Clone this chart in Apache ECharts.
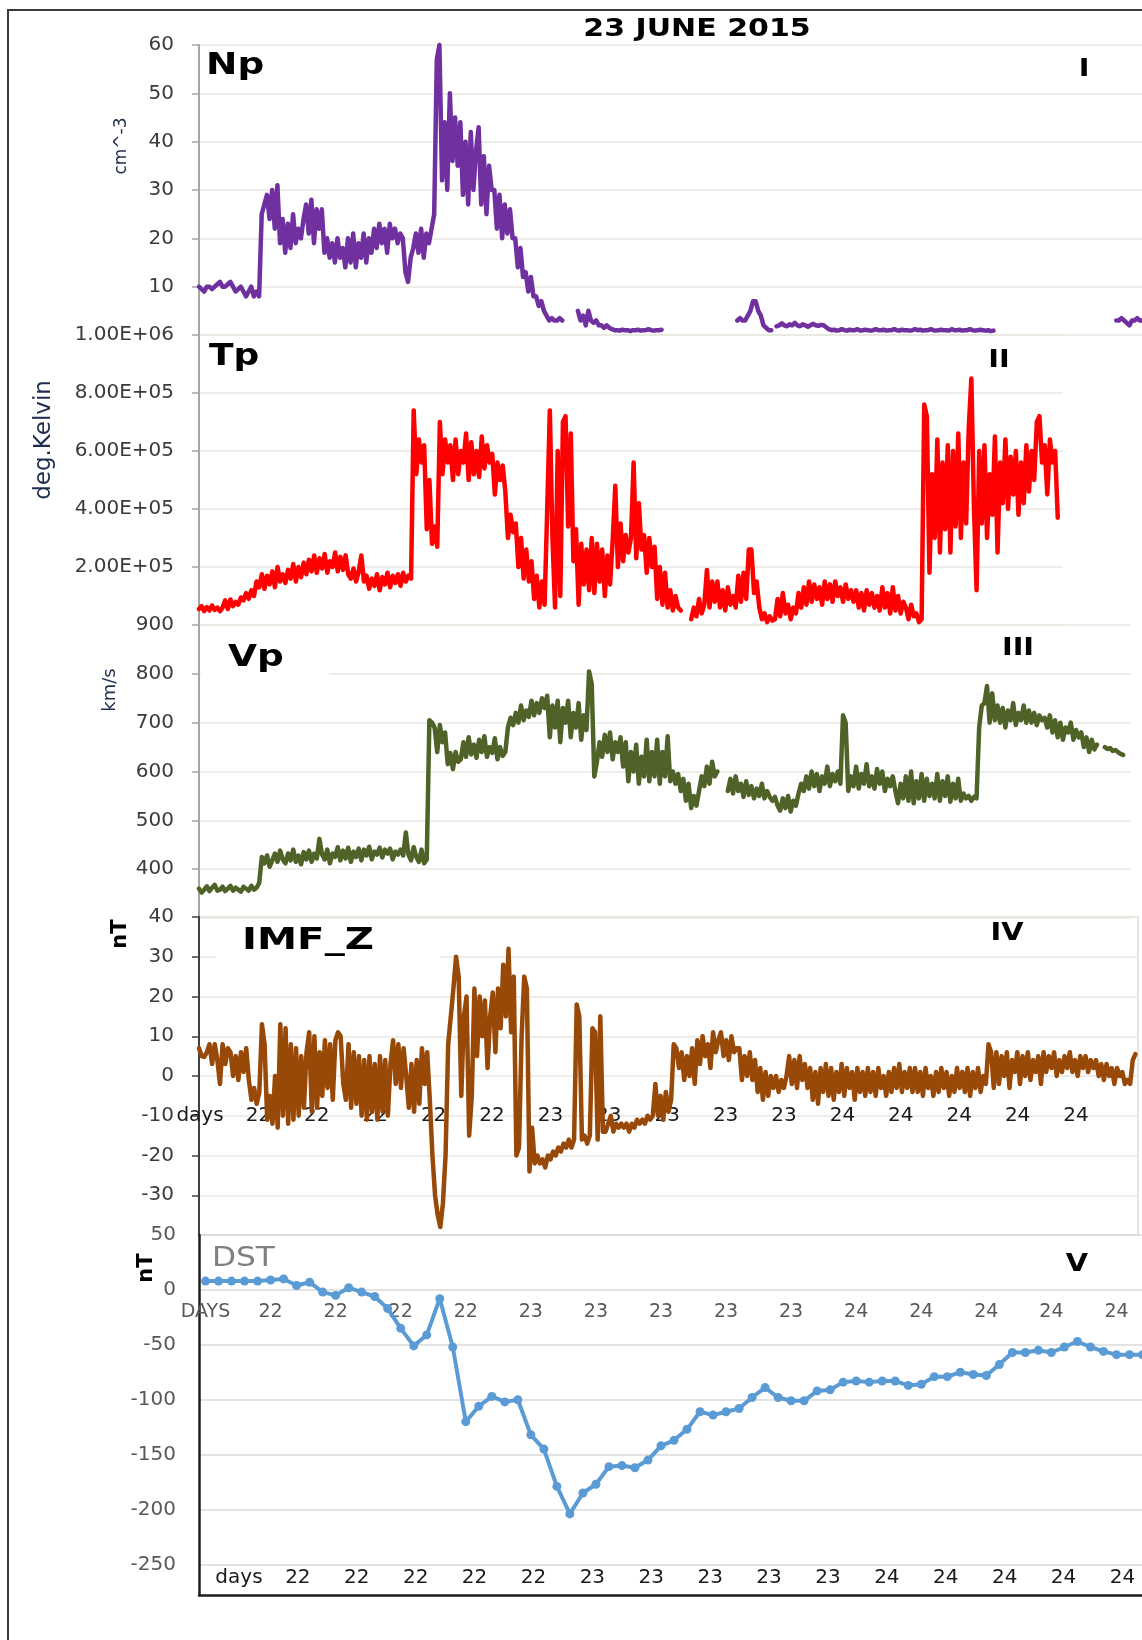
<!DOCTYPE html>
<html>
<head>
<meta charset="utf-8">
<script src="https://cdn.jsdelivr.net/npm/echarts@6/dist/echarts.min.js"></script>
<style>
html,body{margin:0;padding:0;background:#fff;}
#chart{width:1142px;height:1640px;}
</style>
</head>
<body>
<div id="chart"></div>
<script>
// ---------------- DATA ----------------
// Proton density Np (cm^-3), evenly spaced samples, 22-24 June 2015
const npValues = [
10,9.5,9,10,10,9.5,10,10.5,11,10,10,10.5,11,10,9,9.5,10,9,8,9,10,8,9,8,
25,27,29,24,30,22,31,
19,24,17,23,18,25,19,22,20,24,
27,21,28,19,26,22,
26,17,20,16,19,15,20,16,18,14,
20,15,21,14,19,16,21,15,20,
17,22,18,23,19,22,17,23,20,22,19,21,20,
13,11,16,
18,21,17,22,16,21,19,22,
25,57,60,
32,44,30,50,36,45,35,44,
29,40,27,42,30,38,
43,27,37,25,35,30,
30,22,29,20,27,21,26,20,
20,14,18,12,
13,9,12,8,
8,6,7,5,
4,3,3.5,3,3,3.5,3,
null,null,null,null,null,
5,3,4,2,5,3,2.5,3,2,2,1.5,2,1.5,
1.2,1,1,0.9,1.1,1,1,0.8,1,1,1.1,0.9,1,1,1.2,1,0.9,1,1,1.1,
null,null,null,null,null,null,null,null,null,null,null,null,null,null,
null,null,null,null,null,null,null,null,null,null,null,null,null,null,
3,3.5,3,3,4,5,7,7,5,4,2,1.5,1,1,
null,
1.8,2,2.4,2,1.8,2.2,2,2.5,2,1.8,2.2,2,1.7,2,2.3,2,1.9,2.1,2,1.6,
1.2,1,1.1,0.9,1,1.2,1,0.9,1.1,1,1,1.2,0.9,1,1.1,1,0.9,1,1.2,1,1,1.1,0.9,1,1,1.2,1,0.9,1.1,1,1,0.9,
1,1.2,1,1.1,0.9,1,1,1.2,1,0.9,1,1.1,1,1,0.9,1.2,1,1,1.1,0.9,1,1,1.2,1,0.9,1,1.1,1,0.9,1,0.8,0.9,
null,null,null,null,null,null,null,null,null,null,null,null,null,null,null,null,null,null,null,null,null,null,null,
null,null,null,null,null,null,null,null,null,null,null,null,null,null,null,null,null,null,null,null,null,null,null,
3,3,3.5,3,2.5,2,3,3,3.5,3,3,3
];
// Proton temperature Tp (thousands of K)
const tpValuesK = [
55,65,48,62,50,67,52,60,48,
60,85,55,88,65,80,70,95,85,110,90,120,
100,150,130,
175,125,170,140,185,130,200,150,175,145,190,160,210,150,200,165,215,175,
225,185,240,180,230,195,245,180,220,200,250,185,235,190,240,175,
160,195,150,185,240,
150,170,125,160,135,175,120,165,140,180,130,170,145,175,135,180,150,170,
160,740,
520,640,560,620,
330,500,280,340,270,
700,520,640,560,
620,500,640,520,600,560,660,500,630,520,600,510,650,540,620,560,
590,450,560,500,550,
460,300,380,320,
350,200,300,160,260,150,
220,90,170,60,150,70,
400,740,300,
60,600,100,700,
720,340,660,
220,330,70,280,140,260,
120,300,110,280,150,260,100,240,140,290,
480,200,350,
220,310,250,300,
560,230,420,260,
310,180,300,200,270,
90,200,70,180,60,120,50,100,60,
50,null,null,null,
20,60,30,90,40,70,
190,60,150,80,
150,60,120,50,130,70,100,60,
170,80,180,90,
260,260,110,150,
60,20,40,10,30,15,
20,90,30,110,40,70,20,60,40,
110,60,130,70,150,80,140,90,130,70,150,90,140,80,150,100,130,80,140,90,120,80,
120,60,110,50,120,70,110,60,100,50,130,60,110,40,130,50,100,40,80,
60,20,70,30,40,10,20,
760,720,
180,520,300,640,250,560,330,620,250,600,340,660,300,560,350,680,
850,400,120,600,
350,620,300,520,380,650,250,560,420,640,400,580,450,600,380,560,420,620,460,600,500,700,720,560,620,450,640,560,
600,370,
null,null
];
// Proton speed Vp (km/s)
const vpValues = [
360,352,358,365,355,362,368,356,358,364,355,360,366,356,362,358,354,364,360,356,366,358,362,372,
425,412,428,405,418,432,415,438,420,412,432,418,440,415,428,410,435,420,438,415,432,422,
462,430,
420,440,412,432,425,445,418,438,422,444,415,436,425,442,418,440,428,446,420,436,430,444,424,440,432,442,420,436,430,440,428,
475,430,
418,445,425,415,440,412,420,
705,700,
690,640,695,660,680,
615,638,605,640,620,
625,660,630,670,635,655,628,665,640,672,630,650,638,668,625,650,632,640,
690,710,695,720,700,735,705,725,712,745,715,740,720,750,730,
755,670,735,690,745,660,730,700,745,670,720,690,740,665,715,685,
805,780,
590,620,
660,630,675,640,680,625,660,640,670,
610,660,580,640,600,655,575,630,590,665,580,640,
590,665,575,640,590,672,580,600,
575,595,560,585,540,575,525,550,530,
560,590,570,610,575,620,590,600,
null,null,null,
560,585,555,590,560,575,548,580,552,570,545,565,550,575,545,560,548,540,
548,530,520,545,525,550,518,540,530,555,
575,560,590,565,600,570,595,560,590,575,610,570,595,580,600,575,
715,700,
560,590,570,610,565,595,575,615,570,590,565,605,575,600,560,585,570,590,
560,535,575,545,590,540,600,535,580,545,595,540,585,550,575,
545,595,540,580,550,590,538,575,545,585,540,555,545,550,540,548,545,
690,735,
740,775,700,760,705,
735,700,730,690,725,705,740,695,720,705,735,700,
725,700,720,695,715,705,710,
690,715,680,705,670,700,665,690,680,700,665,685,670,
680,650,670,640,665,645,655,
null,null,
650,646,648,642,644,640,636,634,
null,null,null
];
// IMF Bz (nT)
const imfValues = [
7,5,4.8,6,
8,3,8,4,-2,8,3,7,6,
0,5,-1,6,1,7,-1,
-6,-3,-7,-4,
13,8,
-11,-5,-12,0,
-13,13,-10,12,-12,8,
-11,7,-10,5,-8,6,
11,-9,10,-8,
6,-5,9,-3,8,-6,9,
11,10,-2,
-6,8,-8,6,-7,5,
-10,4,-11,5,-9,3,-11,
5,-9,4,-10,3,
9,-2,8,-3,7,0,
-8,3,-9,4,-7,
7,-2,6,
-6,-20,
-30,-35,-38,-32,-20,
8,15,22,30,25,
-5,15,20,
-15,-5,22,
5,20,10,19,2,15,21,6,22,
12,28,15,32,11,25,
-20,-18,10,
25,22,
-24,-13,-22,-20,
-22,-21,-23,-20,-21,-19,-20,-18,-19,-17,-18,-16,-18,-16,
18,15,
-16,-15,-17,-15,
12,11,
-16,15,-14,
-14,-12,-10,-14,-12,-13,-12,
-13,-12,-14,-12,-13,-11,-12,-11,-12,-10,-11,-10,
-2,
-10,-5,-11,-4,-9,-6,
8,7,
2,6,-1,5,0,7,-2,
9,3,10,5,8,2,11,6,9,
11,5,9,4,10,6,7,
7,-1,5,0,6,-1,4,
-4,2,-6,1,-5,0,
-3,0,-4,-1,-3,0,
5,-2,4,-3,5,-1,3,-3,
2,-6,1,-7,2,-4,
3,-5,2,-6,1,-4,3,-5,2,-3,1,-6,2,-4,
1,-5,2,-4,1,-5,2,-3,0,-5,1,-4,2,-3,
3,-4,1,-3,2,-4,
2,-4,1,-5,2,-3,0,-5,1,-4,2,-3,1,-5,0,-4,2,-3,1,-4,2,-5,1,-3,2,-4,0,-2,
8,6,
-3,6,-2,5,0,6,-3,4,1,6,-2,5,0,6,-1,4,1,5,-2,6,
1,5,2,6,0,4,1,5,2,6,1,4,0,5,2,5,1,4,2,
4,0,3,-1,3,0,2,-2,2,0,1,-2,-1,-2,
4,5.5,
null
];
// Dst index (nT), hourly
const dstValues = [
8,8,8,8,8,9,10,4,7,-2,-5,2,-2,-6,-17,-35,-51,-41,-8,-52,
-120,-106,-97,-102,-100,-132,-145,-179,-204,-185,-177,-161,-160,-162,-155,-142,-137,-127,-111,-114,
-111,-108,-98,-89,-98,-101,-101,-92,-91,-84,-83,-84,-83,-83,-87,-86,-79,-79,-75,-77,
-78,-68,-57,-57,-55,-57,-52,-47,-52,-56,-59,-59,-59
];
// category / tick labels
const dstHeader = 'DAYS';
const dstDays = ['22','23','24'];
const imfDayLabels = ['days','22','22','22','22','22','23','23','23','23','23','24','24','24','24','24',''];
const bottomDayLabels = ['days','22','22','22','22','22','23','23','23','23','23','24','24','24','24','24'];

// ---------------- BUILD ----------------
const idx = a => a.map((_, i) => i);
const dstCategories = [dstHeader];
dstDays.forEach(d => { for (let h = 0; h < 24; h++) dstCategories.push(d); });

function sci(v) {
  if (v === 0) return '0.00E+00';
  const e = Math.floor(Math.log10(v) + 1e-9);
  const m = v / Math.pow(10, e);
  return m.toFixed(2) + 'E+' + String(e).padStart(2, '0');
}

const FONT = 'DejaVu Sans';
const tickCol = '#3b3b3b';
const gridCol = '#e9e7df';

function dataY(gi, min, max, interval, axisCol, extra) {
  return Object.assign({
    gridIndex: gi, type: 'value', min: min, max: max, interval: interval,
    axisLine: {show: true, lineStyle: {color: axisCol, width: 2}},
    axisTick: {show: true, length: 7, lineStyle: {color: axisCol, width: 1.5}},
    axisLabel: {margin: 25, color: tickCol, fontSize: 20, fontFamily: FONT, showMinLabel: false},
    splitLine: {show: true, lineStyle: {color: gridCol, width: 1.5}}
  }, extra || {});
}
function hiddenX(gi, arr) {
  return {gridIndex: gi, type: 'category', data: idx(arr), boundaryGap: false, show: false};
}
function lineSeries(xi, arr, color) {
  return {
    type: 'line', xAxisIndex: xi, yAxisIndex: xi, data: arr, showSymbol: false,
    connectNulls: false, clip: false, animation: false, z: 3,
    lineStyle: {color: color, width: 4.5, join: 'round', cap: 'round'},
    itemStyle: {color: color}
  };
}
function labelAxis(gi, labels, gap, interval, color, size) {
  return {gridIndex: gi, type: 'category', data: labels, boundaryGap: gap, position: 'bottom',
    axisLine: {show: false, onZero: false}, axisTick: {show: false},
    axisLabel: {interval: interval, margin: 0, verticalAlign: 'middle', color: color, fontSize: size,
                fontFamily: FONT, hideOverlap: false}};
}

const G = {outerBoundsMode: 'none', containLabel: false};
const option = {
  backgroundColor: '#fff',
  animation: false,
  textStyle: {fontFamily: FONT},
  grid: [
    Object.assign({left: 199, top: 45, width: 946, height: 290}, G),
    Object.assign({left: 199, top: 335, width: 864, height: 290}, G),
    Object.assign({left: 199, top: 625, width: 932, height: 293}, G),
    Object.assign({left: 199, top: 917, width: 939, height: 318, show: true, borderColor: '#dcdcdc', borderWidth: 1.5}, G),
    Object.assign({left: 199, top: 1235, width: 950, height: 384.3}, G),
    Object.assign({left: 199, top: 1235, width: 950, height: 360}, G),
    Object.assign({left: 209.5, top: 1540, width: 942.4, height: 38}, G),
    Object.assign({left: 200, top: 1080, width: 934.4, height: 36}, G),
    Object.assign({left: 199, top: 1290, width: 950, height: 22.5}, G)
  ],
  xAxis: [
    hiddenX(0, npValues),
    hiddenX(1, tpValuesK),
    hiddenX(2, vpValues),
    hiddenX(3, imfValues),
    {gridIndex: 4, type: 'category', data: dstCategories, boundaryGap: true, show: false},
    {gridIndex: 5, type: 'value', min: 0, max: 1,
     axisLine: {show: true, onZero: false, lineStyle: {color: '#1e1e1e', width: 2.5}},
     axisTick: {show: false}, axisLabel: {show: false}, splitLine: {show: false}},
    labelAxis(6, bottomDayLabels, true, 0, '#1a1a1a', 20),
    labelAxis(7, imfDayLabels, false, 0, '#1a1a1a', 20),
    labelAxis(8, dstCategories, true, 4, '#595959', 19)
  ],
  yAxis: [
    dataY(0, 0, 60, 10, '#a6a6a6'),
    dataY(1, 0, 1000, 200, '#a6a6a6'),
    dataY(2, 300, 900, 100, '#a6a6a6'),
    dataY(3, -40, 40, 10, '#404040'),
    {gridIndex: 4, type: 'value', min: -300, max: 50, interval: 50,
     axisLine: {show: false}, axisTick: {show: false},
     axisLabel: {margin: 23, color: '#595959', fontSize: 20, fontFamily: FONT, showMinLabel: false},
     splitLine: {show: true, showMinLine: false, lineStyle: {color: '#d9d9d9', width: 1.5}}},
    {gridIndex: 5, type: 'value', min: 0, max: 1,
     axisLine: {show: true, onZero: false, lineStyle: {color: '#1e1e1e', width: 2.5}},
     axisTick: {show: false}, axisLabel: {show: false}, splitLine: {show: false}},
    {gridIndex: 6, type: 'value', show: false},
    {gridIndex: 7, type: 'value', show: false},
    {gridIndex: 8, type: 'value', show: false}
  ],
  series: [
    lineSeries(0, npValues, '#7030a0'),
    lineSeries(1, tpValuesK, '#ff0000'),
    lineSeries(2, vpValues, '#4f6228'),
    lineSeries(3, imfValues, '#984807'),
    {type: 'line', xAxisIndex: 4, yAxisIndex: 4, data: dstValues, symbol: 'circle', symbolSize: 9,
     showSymbol: true, showAllSymbol: true, clip: false, animation: false, z: 3,
     lineStyle: {color: '#5b9bd5', width: 4, join: 'round'},
     itemStyle: {color: '#5b9bd5'}}
  ],
  graphic: {elements: [
    {type: 'polyline', silent: true, z: 100, shape: {points: [[8, 1660], [8, 10], [1170, 10]]},
     style: {stroke: '#3a3a3a', lineWidth: 2, fill: null}},
    {type: 'rect', silent: true, z: 1, shape: {x: 201, y: 667, width: 128, height: 15}, style: {fill: '#ffffff'}},
    {type: 'rect', silent: true, z: 1, shape: {x: 216, y: 950, width: 224, height: 15}, style: {fill: '#ffffff'}},
    {type: 'text', z: 10, x: 697, y: 29, scaleX: 1.2,
     style: {text: '23 JUNE 2015', font: 'bold 25px "DejaVu Sans"', fill: '#000', textAlign: 'center', textVerticalAlign: 'middle'}},
    {type: 'text', z: 10, x: 206, y: 66, scaleX: 1.25,
     style: {text: 'Np', font: 'bold 30px "DejaVu Sans"', fill: '#000', textAlign: 'left', textVerticalAlign: 'middle'}},
    {type: 'text', z: 10, x: 209, y: 357, scaleX: 1.2,
     style: {text: 'Tp', font: 'bold 30px "DejaVu Sans"', fill: '#000', textAlign: 'left', textVerticalAlign: 'middle'}},
    {type: 'text', z: 10, x: 228, y: 658, scaleX: 1.25,
     style: {text: 'Vp', font: 'bold 30px "DejaVu Sans"', fill: '#000', textAlign: 'left', textVerticalAlign: 'middle'}},
    {type: 'text', z: 10, x: 242, y: 941, scaleX: 1.3,
     style: {text: 'IMF_Z', font: 'bold 31px "DejaVu Sans"', fill: '#000', textAlign: 'left', textVerticalAlign: 'middle'}},
    {type: 'text', z: 10, x: 212, y: 1259, scaleX: 1.2,
     style: {text: 'DST', font: '26px "DejaVu Sans"', fill: '#7f7f7f', textAlign: 'left', textVerticalAlign: 'middle'}},
    {type: 'text', z: 10, x: 1084, y: 70, scaleX: 1.2,
     style: {text: 'I', font: 'bold 24px "DejaVu Sans"', fill: '#000', textAlign: 'center', textVerticalAlign: 'middle'}},
    {type: 'text', z: 10, x: 999, y: 361, scaleX: 1.2,
     style: {text: 'II', font: 'bold 24px "DejaVu Sans"', fill: '#000', textAlign: 'center', textVerticalAlign: 'middle'}},
    {type: 'text', z: 10, x: 1018, y: 649, scaleX: 1.2,
     style: {text: 'III', font: 'bold 24px "DejaVu Sans"', fill: '#000', textAlign: 'center', textVerticalAlign: 'middle'}},
    {type: 'text', z: 10, x: 1007, y: 934, scaleX: 1.2,
     style: {text: 'IV', font: 'bold 24px "DejaVu Sans"', fill: '#000', textAlign: 'center', textVerticalAlign: 'middle'}},
    {type: 'text', z: 10, x: 1077, y: 1265, scaleX: 1.2,
     style: {text: 'V', font: 'bold 24px "DejaVu Sans"', fill: '#000', textAlign: 'center', textVerticalAlign: 'middle'}},
    {type: 'text', z: 10, x: 122, y: 146, rotation: Math.PI / 2,
     style: {text: 'cm^-3', font: '17px "DejaVu Sans"', fill: '#1f2d4d', textAlign: 'center', textVerticalAlign: 'middle'}},
    {type: 'text', z: 10, x: 44, y: 440, rotation: Math.PI / 2,
     style: {text: 'deg.Kelvin', font: '23px "DejaVu Sans"', fill: '#1f2d4d', textAlign: 'center', textVerticalAlign: 'middle'}},
    {type: 'text', z: 10, x: 110, y: 690, rotation: Math.PI / 2,
     style: {text: 'km/s', font: '18px "DejaVu Sans"', fill: '#1f2d4d', textAlign: 'center', textVerticalAlign: 'middle'}},
    {type: 'text', z: 10, x: 121, y: 934, rotation: Math.PI / 2,
     style: {text: 'nT', font: 'bold 21px "DejaVu Sans"', fill: '#000', textAlign: 'center', textVerticalAlign: 'middle'}},
    {type: 'text', z: 10, x: 147, y: 1268, rotation: Math.PI / 2,
     style: {text: 'nT', font: 'bold 21px "DejaVu Sans"', fill: '#000', textAlign: 'center', textVerticalAlign: 'middle'}}
  ]}
};
// Tp axis is in thousands of K; its labels show kelvin in E-notation
option.yAxis[1].axisLabel = Object.assign({}, option.yAxis[1].axisLabel, {formatter: v => sci(v * 1000)});

const chart = echarts.init(document.getElementById('chart'), null, {renderer: 'canvas'});
chart.setOption(option);
</script>
</body>
</html>
